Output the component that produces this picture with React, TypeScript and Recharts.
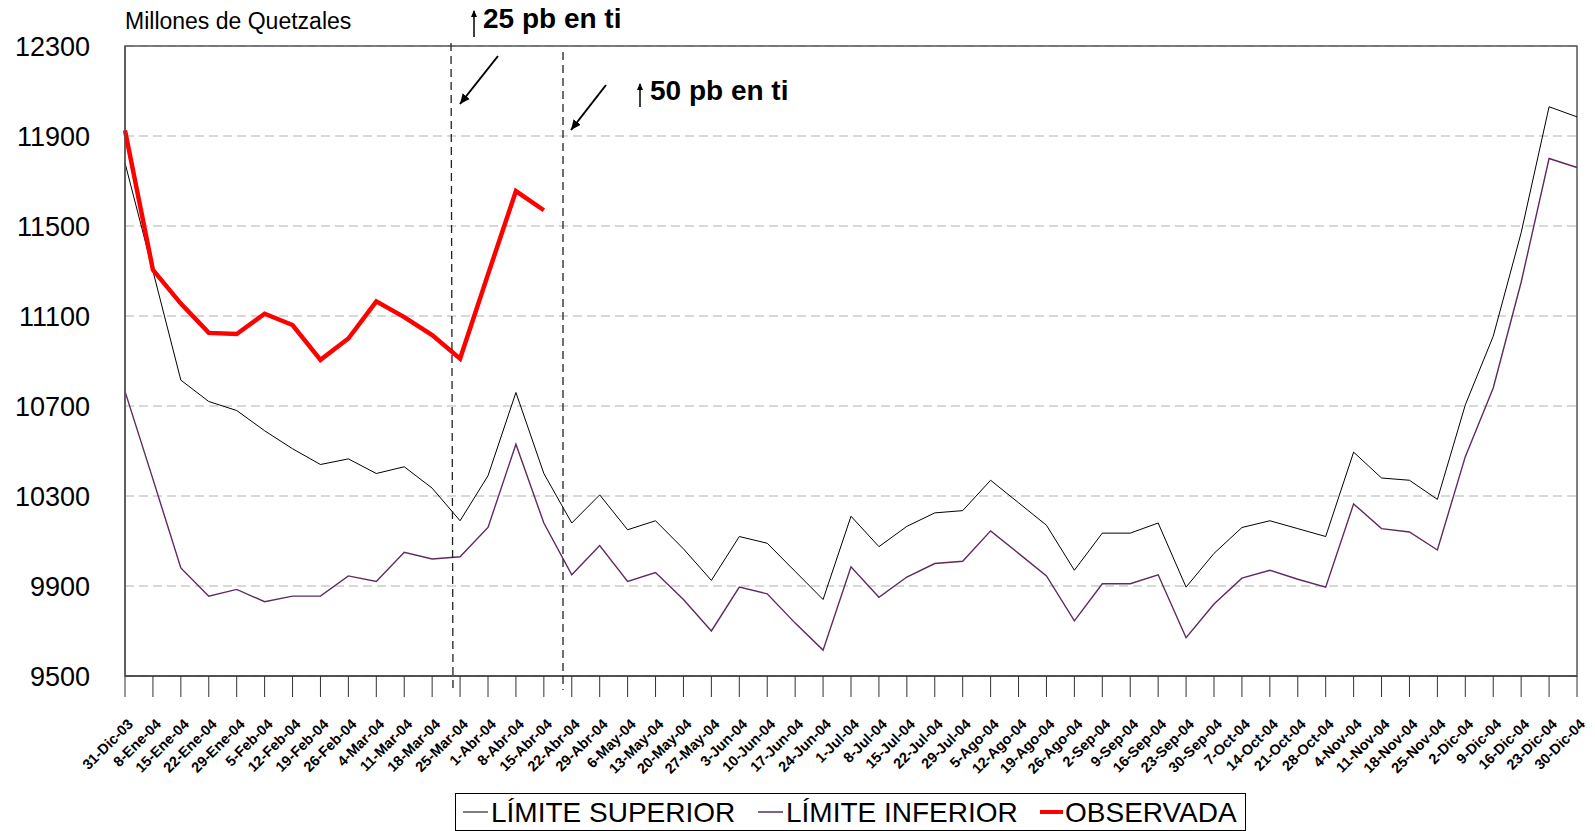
import { LineChart, Line, XAxis, YAxis, CartesianGrid, ReferenceArea } from 'recharts';

const weeks = [
  '31-Dic-03', '8-Ene-04', '15-Ene-04', '22-Ene-04', '29-Ene-04', '5-Feb-04', '12-Feb-04', '19-Feb-04',
  '26-Feb-04', '4-Mar-04', '11-Mar-04', '18-Mar-04', '25-Mar-04', '1-Abr-04', '8-Abr-04', '15-Abr-04',
  '22-Abr-04', '29-Abr-04', '6-May-04', '13-May-04', '20-May-04', '27-May-04', '3-Jun-04', '10-Jun-04',
  '17-Jun-04', '24-Jun-04', '1-Jul-04', '8-Jul-04', '15-Jul-04', '22-Jul-04', '29-Jul-04', '5-Ago-04',
  '12-Ago-04', '19-Ago-04', '26-Ago-04', '2-Sep-04', '9-Sep-04', '16-Sep-04', '23-Sep-04', '30-Sep-04',
  '7-Oct-04', '14-Oct-04', '21-Oct-04', '28-Oct-04', '4-Nov-04', '11-Nov-04', '18-Nov-04', '25-Nov-04',
  '2-Dic-04', '9-Dic-04', '16-Dic-04', '23-Dic-04', '30-Dic-04',
];

const upperLimit = [
  11780, 11300, 10815, 10720, 10680, 10590, 10510, 10440, 10465, 10400, 10430, 10335, 10190, 10390,
  10760, 10400, 10180, 10305, 10150, 10190, 10065, 9925, 10120, 10090, 9965, 9840, 10210, 10075,
  10165, 10225, 10235, 10370, 10270, 10170, 9970, 10135, 10135, 10180, 9895, 10045, 10160, 10190,
  10155, 10120, 10495, 10380, 10370, 10285, 10705, 11010, 11470, 12030, 11985,
];

const lowerLimit = [
  10765, 10375, 9980, 9855, 9885, 9830, 9855, 9855, 9945, 9920, 10050, 10020, 10030, 10160,
  10530, 10180, 9950, 10080, 9920, 9960, 9840, 9700, 9895, 9865, 9735, 9615, 9985, 9850,
  9940, 10000, 10010, 10145, 10045, 9945, 9745, 9910, 9910, 9950, 9670, 9820, 9935, 9970,
  9930, 9895, 10265, 10155, 10140, 10060, 10475, 10780, 11250, 11800, 11760,
];

const observed: (number | null)[] = [
  11925, 11305, 11155, 11025, 11020, 11110, 11060, 10905, 11000, 11165, 11095, 11015, 10910, 11285,
  11655, 11570,
  ...Array(37).fill(null),
];

const yTicks = [9500, 9900, 10300, 10700, 11100, 11500, 11900, 12300];

const data = weeks.map((week, i) => ({
  week,
  upper: upperLimit[i],
  lower: lowerLimit[i],
  observed: observed[i],
}));

const FONT = "'Liberation Sans', Arial, sans-serif";
const PURPLE = '#5e2a60';

function WeekTick({ x, y, payload }: any) {
  return (
    <g transform={`translate(${x + 9},${y + 28})`}>
      <text
        textAnchor="end"
        transform="rotate(-45)"
        fontSize={14.5}
        fontWeight="bold"
        fontFamily={FONT}
        fill="#000"
      >
        {payload.value}
      </text>
    </g>
  );
}

export default function App() {
  return (
    <div style={{ position: 'absolute', left: 0, top: 0, width: 1595, height: 831, background: '#fff', fontFamily: FONT }}>
      <LineChart width={1595} height={831} data={data} margin={{ top: 46, right: 18, left: 25, bottom: 95 }}>
        <CartesianGrid horizontal vertical={false} stroke="#cccccc" strokeWidth={1.3} strokeDasharray="9 5" />
        <ReferenceArea x1={weeks[0]} x2={weeks[weeks.length - 1]} y1={9500} y2={12300} fill="none" stroke="#555" strokeWidth={1.5} />
        <XAxis
          dataKey="week"
          interval={0}
          tickSize={21}
          tickMargin={0}
          tick={<WeekTick />}
          height={60}
          axisLine={{ stroke: '#444', strokeWidth: 1.5 }}
          tickLine={{ stroke: '#333' }}
        />
        <YAxis
          domain={[9500, 12300]}
          ticks={yTicks}
          interval={0}
          width={100}
          tickLine={false}
          tickSize={0}
          tickMargin={35}
          axisLine={{ stroke: '#555', strokeWidth: 1.5 }}
          tick={{ fontSize: 27, fill: '#000', fontFamily: FONT }}
        />
        <Line dataKey="upper" name="LÍMITE SUPERIOR" stroke="#000" strokeWidth={1} dot={false} activeDot={false} isAnimationActive={false} />
        <Line dataKey="lower" name="LÍMITE INFERIOR" stroke={PURPLE} strokeWidth={1.4} dot={false} activeDot={false} isAnimationActive={false} />
        <Line dataKey="observed" name="OBSERVADA" stroke="#ff0000" strokeWidth={4.5} dot={false} activeDot={false} isAnimationActive={false} />
      </LineChart>

      <svg width={1595} height={831} style={{ position: 'absolute', left: 0, top: 0, pointerEvents: 'none' }}>
        <defs>
          <marker id="ah" markerWidth="12" markerHeight="12" refX="10" refY="6" orient="auto" markerUnits="userSpaceOnUse">
            <path d="M0,1.5 L10,6 L0,10.5 Z" fill="#000" />
          </marker>
          <marker id="up" markerWidth="8" markerHeight="8" refX="6" refY="3.5" orient="auto" markerUnits="userSpaceOnUse">
            <path d="M0,0.5 L7,3.5 L0,6.5 Z" fill="#000" />
          </marker>
        </defs>
        <text x={125} y={29} fontSize={23} fontFamily={FONT} fill="#000">Millones de Quetzales</text>

        {/* policy-rate change markers */}
        <line x1={451} y1={43} x2={453} y2={688} stroke="#222" strokeWidth={1.3} strokeDasharray="8 5" />
        <line x1={563} y1={52} x2={563} y2={690} stroke="#222" strokeWidth={1.3} strokeDasharray="8 5" />
        <line x1={498} y1={56} x2={460} y2={104} stroke="#000" strokeWidth={2} markerEnd="url(#ah)" />
        <line x1={606} y1={85} x2={571} y2={130} stroke="#000" strokeWidth={2} markerEnd="url(#ah)" />

        <line x1={474} y1={37} x2={474} y2={11} stroke="#000" strokeWidth={1.5} markerEnd="url(#up)" />
        <text x={483} y={28} fontSize={28} fontWeight="bold" fontFamily={FONT} fill="#000">25 pb en ti</text>
        <line x1={640} y1={107} x2={640} y2={84} stroke="#000" strokeWidth={1.5} markerEnd="url(#up)" />
        <text x={650} y={100} fontSize={28} fontWeight="bold" fontFamily={FONT} fill="#000">50 pb en ti</text>

        {/* legend */}
        <rect x={455.5} y={793.5} width={790} height={37} fill="#fff" stroke="#000" strokeWidth={1} />
        <line x1={463} y1={812} x2={488} y2={812} stroke="#000" strokeWidth={1} />
        <text x={491} y={822} fontSize={28} fontFamily={FONT} fill="#000">LÍMITE SUPERIOR</text>
        <line x1={758} y1={812} x2={783} y2={812} stroke={PURPLE} strokeWidth={1.5} />
        <text x={786} y={822} fontSize={28} fontFamily={FONT} fill="#000">LÍMITE INFERIOR</text>
        <line x1={1040} y1={812} x2={1063} y2={812} stroke="#ff0000" strokeWidth={4} />
        <text x={1065} y={822} fontSize={28} fontFamily={FONT} fill="#000">OBSERVADA</text>
      </svg>
    </div>
  );
}
